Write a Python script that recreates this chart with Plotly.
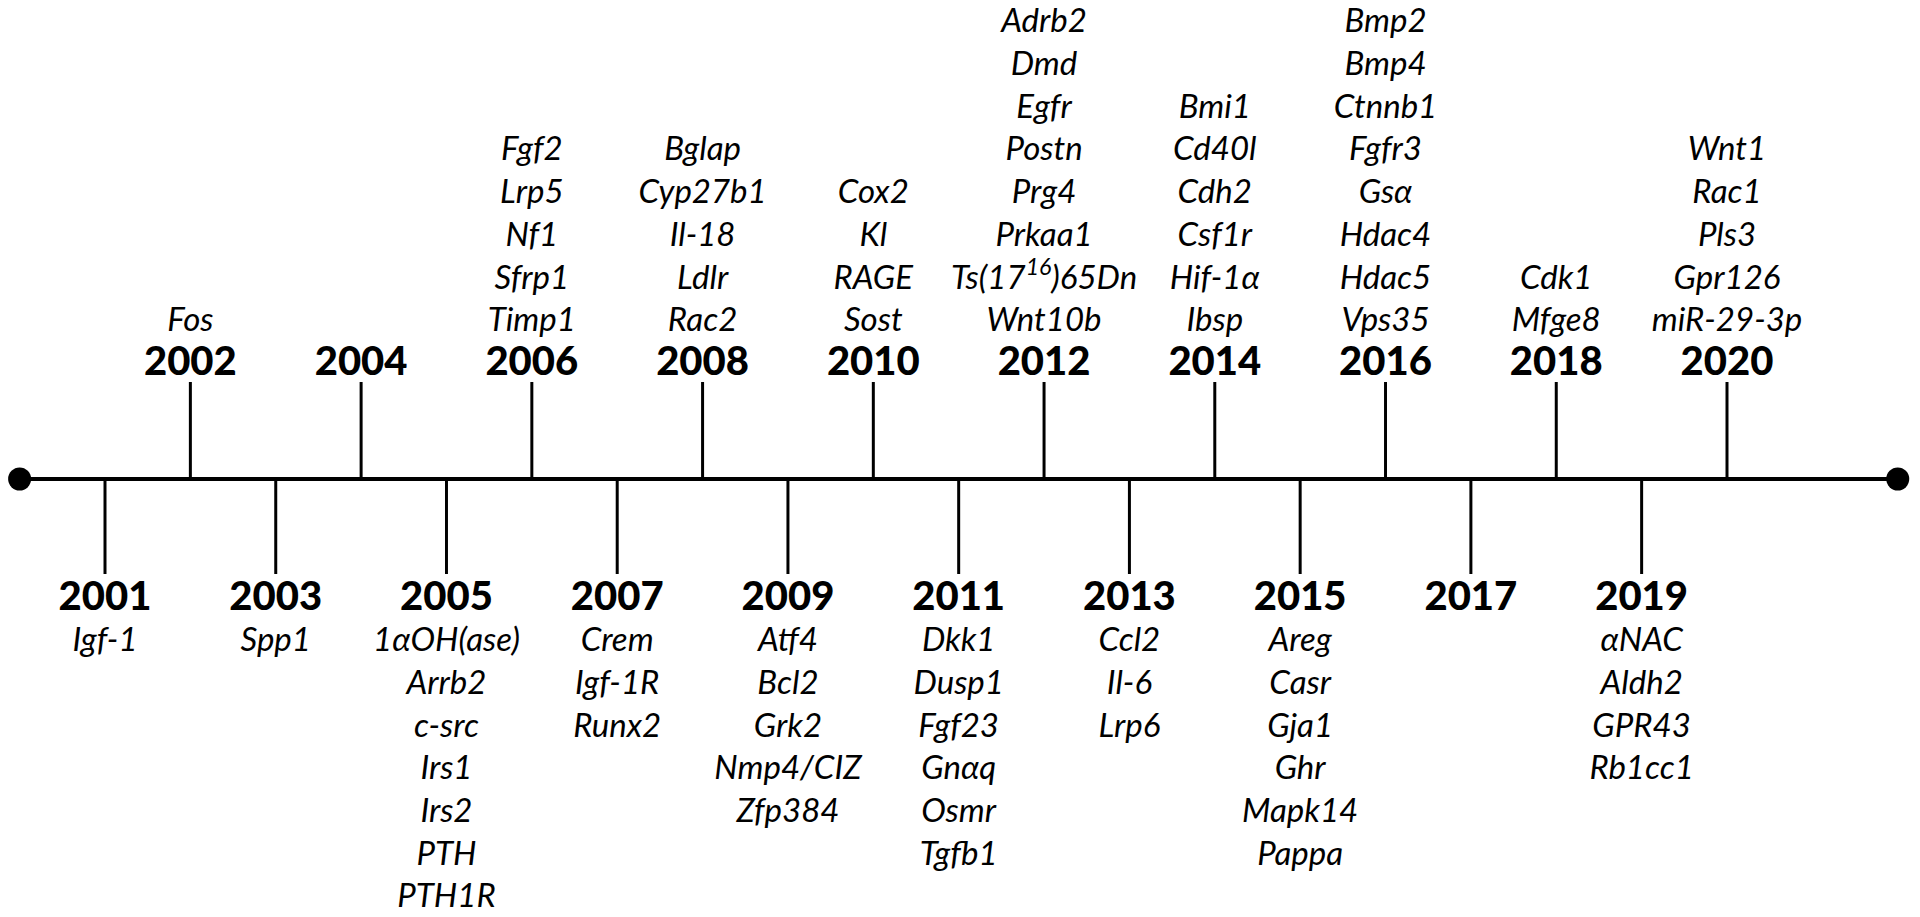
import plotly.graph_objects as go

# ---------------- data ----------------
timeline_start = 2000
timeline_end = 2022

years_top = [2002, 2004, 2006, 2008, 2010, 2012, 2014, 2016, 2018, 2020]
years_bottom = [2001, 2003, 2005, 2007, 2009, 2011, 2013, 2015, 2017, 2019]

genes_2001 = ["Igf-1"]
genes_2002 = ["Fos"]
genes_2003 = ["Spp1"]
genes_2004 = []
genes_2005 = ["1αOH(ase)", "Arrb2", "c-src", "Irs1", "Irs2", "PTH", "PTH1R"]
genes_2006 = ["Fgf2", "Lrp5", "Nf1", "Sfrp1", "Timp1"]
genes_2007 = ["Crem", "Igf-1R", "Runx2"]
genes_2008 = ["Bglap", "Cyp27b1", "Il-18", "Ldlr", "Rac2"]
genes_2009 = ["Atf4", "Bcl2", "Grk2", "Nmp4/CIZ", "Zfp384"]
genes_2010 = ["Cox2", "Kl", "RAGE", "Sost"]
genes_2011 = ["Dkk1", "Dusp1", "Fgf23", "Gnαq", "Osmr", "Tgfb1"]
genes_2012 = ["Adrb2", "Dmd", "Egfr", "Postn", "Prg4", "Prkaa1",
              "Ts(17<sup>16</sup>)65Dn", "Wnt10b"]
genes_2013 = ["Ccl2", "Il-6", "Lrp6"]
genes_2014 = ["Bmi1", "Cd40l", "Cdh2", "Csf1r", "Hif-1α", "Ibsp"]
genes_2015 = ["Areg", "Casr", "Gja1", "Ghr", "Mapk14", "Pappa"]
genes_2016 = ["Bmp2", "Bmp4", "Ctnnb1", "Fgfr3", "Gsα", "Hdac4", "Hdac5", "Vps35"]
genes_2017 = []
genes_2018 = ["Cdk1", "Mfge8"]
genes_2019 = ["αNAC", "Aldh2", "GPR43", "Rb1cc1"]
genes_2020 = ["Wnt1", "Rac1", "Pls3", "Gpr126", "miR-29-3p"]

genes_top = [genes_2002, genes_2004, genes_2006, genes_2008, genes_2010,
             genes_2012, genes_2014, genes_2016, genes_2018, genes_2020]
genes_bottom = [genes_2001, genes_2003, genes_2005, genes_2007, genes_2009,
                genes_2011, genes_2013, genes_2015, genes_2017, genes_2019]

# ---------------- layout constants (pixel-like units, 0 = timeline) ----------------
W, H = 1920, 917
LINE_Y_PX = 479
STEM_UP = 97
STEM_DOWN = 95
YEAR_UP = 114
YEAR_DOWN = 121
GENE_UP0 = 156
GENE_DOWN0 = 164
GENE_STEP = 42.7
INK = "#000000"

fig = go.Figure()

# main timeline
fig.add_trace(go.Scatter(x=[timeline_start, timeline_end], y=[0, 0], mode="lines",
                         line=dict(color=INK, width=4), hoverinfo="skip"))
# end dots
fig.add_trace(go.Scatter(x=[timeline_start, timeline_end], y=[0, 0], mode="markers",
                         marker=dict(color=INK, size=23), hoverinfo="skip"))

# stems
sx, sy = [], []
for yr in years_top:
    sx += [yr, yr, None]
    sy += [0, STEM_UP, None]
for yr in years_bottom:
    sx += [yr, yr, None]
    sy += [0, -STEM_DOWN, None]
fig.add_trace(go.Scatter(x=sx, y=sy, mode="lines", line=dict(color=INK, width=3),
                         hoverinfo="skip"))

# year labels
fig.add_trace(go.Scatter(
    x=years_top + years_bottom,
    y=[YEAR_UP] * len(years_top) + [-YEAR_DOWN] * len(years_bottom),
    mode="text", text=[str(y) for y in years_top + years_bottom],
    textposition="middle center",
    textfont=dict(family="Lato", size=40, color=INK, weight=900), hoverinfo="skip"))

# gene labels
gx, gy, gt = [], [], []
for yr, glist in zip(years_top, genes_top):
    n = len(glist)
    for i, g in enumerate(glist):
        gx.append(yr)
        gy.append(GENE_UP0 + GENE_STEP * (n - 1 - i))
        gt.append(g)
for yr, glist in zip(years_bottom, genes_bottom):
    for i, g in enumerate(glist):
        gx.append(yr)
        gy.append(-GENE_DOWN0 - GENE_STEP * i)
        gt.append(g)
fig.add_trace(go.Scatter(
    x=gx, y=gy, mode="text", text=gt,
    textposition="middle center",
    textfont=dict(family="Lato", size=33, color=INK, style="italic"), hoverinfo="skip"))

# axes: map pixels linearly (2001 -> 105px, 2020 -> 1727px)
px_per_year = (1727 - 105) / 19
x0 = 2001 - 105 / px_per_year
x1 = 2001 + (W - 105) / px_per_year

fig.update_layout(
    width=W, height=H,
    margin=dict(l=0, r=0, t=0, b=0),
    paper_bgcolor="white", plot_bgcolor="white",
    showlegend=False, hovermode=False,
    xaxis=dict(range=[x0, x1], visible=False, fixedrange=True),
    yaxis=dict(range=[-(H - LINE_Y_PX), LINE_Y_PX], visible=False, fixedrange=True),
)

fig.write_html("out.html", config={"displayModeBar": False},
               post_script="document.body.style.margin='0';document.body.style.overflow='hidden';")
